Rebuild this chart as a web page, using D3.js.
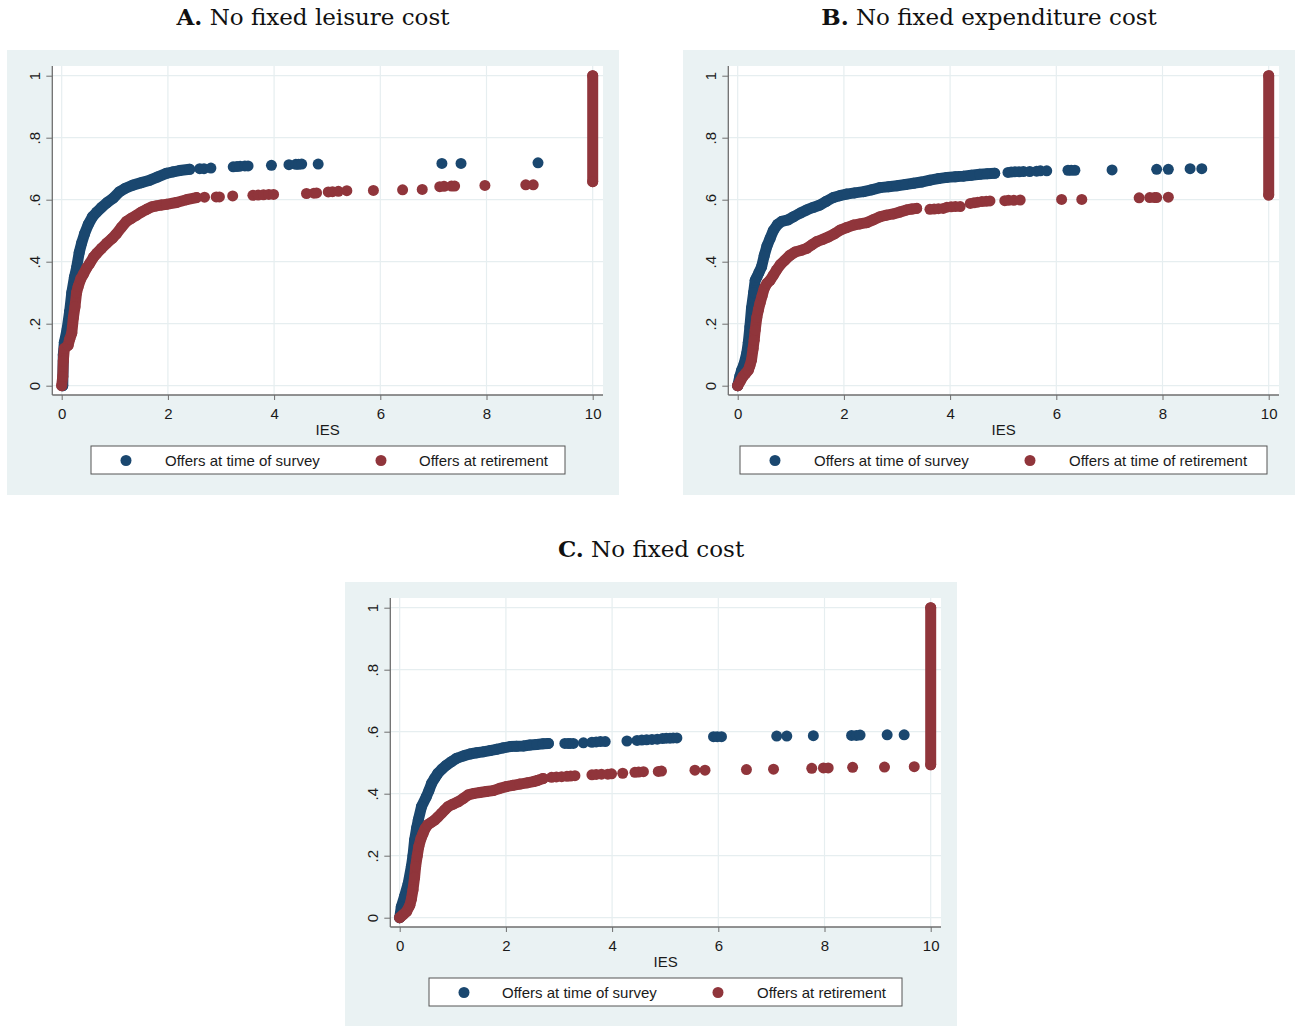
<!DOCTYPE html>
<html>
<head>
<meta charset="utf-8">
<script src="https://cdn.jsdelivr.net/npm/d3@7"></script>
<style>
  body { margin: 0; background: #fff; }
  svg { display: block; }
</style>
</head>
<body>
<svg id="chart" width="1296" height="1026"></svg>
<script>
var xTicks = [0, 2, 4, 6, 8, 10];
var yTicks = [0, 0.2, 0.4, 0.6, 0.8, 1];
var yTickLabels = ["0", ".2", ".4", ".6", ".8", "1"];
var seriesNames = ["Offers at time of survey", "Offers at retirement"];
var seriesNamesB = ["Offers at time of survey", "Offers at time of retirement"];

// panel A: no fixed leisure cost
var blueA_curve = [[0.02,0.0],[0.03,0.1],[0.05,0.14],[0.1,0.18],[0.15,0.24],[0.19,0.30],[0.24,0.35],[0.28,0.38],[0.33,0.43],[0.375,0.46],[0.43,0.49],[0.5,0.52],[0.58,0.545],[0.66,0.56],[0.75,0.575],[0.85,0.59],[0.97,0.605],[1.09,0.626],[1.2,0.637],[1.34,0.647],[1.5,0.655],[1.66,0.663],[1.8,0.673],[1.97,0.685],[2.1,0.69],[2.22,0.694],[2.41,0.698]];
var blueA_dots = [[2.6,0.70],[2.68,0.70],[2.81,0.702],[3.23,0.706],[3.3,0.707],[3.36,0.708],[3.45,0.709],[3.51,0.709],[3.95,0.711],[4.28,0.713],[4.41,0.714],[4.46,0.714],[4.52,0.715],[4.83,0.715],[7.16,0.717],[7.52,0.717],[8.97,0.719]];
var redA_curve = [[0.0,0.0],[0.02,0.03],[0.03,0.08],[0.05,0.12],[0.12,0.13],[0.15,0.15],[0.19,0.17],[0.22,0.22],[0.25,0.255],[0.28,0.3],[0.31,0.32],[0.36,0.345],[0.41,0.36],[0.47,0.38],[0.53,0.395],[0.6,0.415],[0.66,0.427],[0.75,0.443],[0.85,0.46],[0.95,0.475],[1.03,0.49],[1.12,0.51],[1.22,0.53],[1.31,0.54],[1.41,0.55],[1.5,0.56],[1.6,0.569],[1.7,0.577],[1.78,0.58],[1.88,0.583],[1.97,0.585],[2.16,0.591],[2.35,0.60],[2.54,0.607]];
var redA_dots = [[2.69,0.608],[2.91,0.609],[2.97,0.609],[3.22,0.612],[3.6,0.614],[3.7,0.615],[3.8,0.616],[3.9,0.617],[3.99,0.617],[4.61,0.62],[4.75,0.621],[4.8,0.622],[5.02,0.625],[5.1,0.626],[5.21,0.627],[5.37,0.629],[5.87,0.63],[6.42,0.632],[6.79,0.633],[7.12,0.642],[7.2,0.643],[7.34,0.644],[7.4,0.644],[7.97,0.646],[8.74,0.648],[8.88,0.648]];
var redA_bar = [[10,0.658],[10,1]];

// panel B: no fixed expenditure cost
var blueB_curve = [[0,0.0],[0.04,0.03],[0.075,0.05],[0.12,0.07],[0.17,0.104],[0.2,0.14],[0.23,0.19],[0.26,0.25],[0.3,0.30],[0.33,0.34],[0.36,0.35],[0.4,0.365],[0.45,0.384],[0.5,0.42],[0.55,0.45],[0.61,0.475],[0.67,0.50],[0.75,0.52],[0.83,0.53],[0.95,0.535],[1.05,0.545],[1.18,0.557],[1.3,0.567],[1.42,0.575],[1.55,0.583],[1.67,0.595],[1.8,0.607],[1.92,0.613],[2.05,0.618],[2.2,0.622],[2.37,0.626],[2.52,0.632],[2.68,0.639],[2.84,0.642],[3.0,0.645],[3.16,0.649],[3.31,0.653],[3.46,0.657],[3.62,0.663],[3.78,0.668],[3.94,0.672],[4.1,0.674],[4.25,0.676],[4.4,0.679],[4.56,0.682],[4.7,0.684],[4.84,0.685]];
var blueB_dots = [[5.09,0.688],[5.15,0.689],[5.22,0.69],[5.3,0.69],[5.38,0.691],[5.5,0.691],[5.63,0.692],[5.7,0.693],[5.82,0.693],[6.22,0.695],[6.28,0.695],[6.35,0.695],[7.05,0.696],[7.89,0.698],[8.11,0.698],[8.52,0.70],[8.74,0.70]];
var redB_curve = [[0,0],[0.05,0.015],[0.1,0.03],[0.15,0.04],[0.2,0.05],[0.23,0.065],[0.26,0.083],[0.29,0.12],[0.31,0.147],[0.33,0.18],[0.36,0.22],[0.39,0.245],[0.42,0.266],[0.46,0.29],[0.5,0.314],[0.55,0.33],[0.61,0.34],[0.67,0.356],[0.73,0.373],[0.8,0.39],[0.89,0.405],[0.98,0.42],[1.08,0.431],[1.2,0.437],[1.3,0.443],[1.4,0.455],[1.49,0.465],[1.6,0.472],[1.71,0.48],[1.82,0.49],[1.93,0.502],[2.05,0.51],[2.18,0.518],[2.3,0.522],[2.43,0.526],[2.55,0.535],[2.68,0.545],[2.8,0.55],[2.93,0.554],[3.05,0.56],[3.18,0.567],[3.28,0.57],[3.37,0.572]];
var redB_dots = [[3.62,0.569],[3.7,0.57],[3.78,0.571],[3.87,0.572],[3.94,0.576],[4.02,0.577],[4.1,0.578],[4.19,0.578],[4.38,0.588],[4.45,0.59],[4.52,0.592],[4.6,0.594],[4.68,0.595],[4.75,0.596],[5.03,0.597],[5.1,0.598],[5.2,0.598],[5.32,0.599],[6.1,0.601],[6.48,0.601],[7.56,0.606],[7.76,0.607],[7.85,0.607],[7.89,0.607],[8.11,0.608]];
var redB_bar = [[10,0.615],[10,1]];

// panel C: no fixed cost
var blueC_curve = [[0,0],[0.03,0.035],[0.09,0.068],[0.16,0.11],[0.22,0.165],[0.25,0.2],[0.28,0.25],[0.32,0.29],[0.35,0.315],[0.41,0.358],[0.5,0.39],[0.55,0.41],[0.6,0.433],[0.66,0.45],[0.72,0.466],[0.8,0.48],[0.88,0.492],[0.97,0.503],[1.07,0.514],[1.2,0.522],[1.32,0.528],[1.45,0.532],[1.57,0.535],[1.7,0.539],[1.82,0.543],[1.95,0.548],[2.08,0.552],[2.2,0.553],[2.33,0.554],[2.45,0.557],[2.58,0.559],[2.7,0.561],[2.8,0.562]];
var blueC_dots = [[3.11,0.562],[3.17,0.562],[3.21,0.562],[3.27,0.562],[3.46,0.564],[3.62,0.566],[3.7,0.567],[3.78,0.568],[3.87,0.568],[4.28,0.57],[4.47,0.572],[4.56,0.573],[4.65,0.574],[4.75,0.575],[4.85,0.576],[4.95,0.578],[5.02,0.579],[5.09,0.579],[5.15,0.58],[5.22,0.58],[5.91,0.584],[5.98,0.584],[6.06,0.584],[7.1,0.586],[7.29,0.586],[7.79,0.587],[8.51,0.588],[8.6,0.588],[8.67,0.589],[9.18,0.59],[9.5,0.59]];
var redC_curve = [[0,0],[0.06,0.009],[0.13,0.02],[0.19,0.04],[0.22,0.06],[0.25,0.09],[0.28,0.13],[0.3,0.165],[0.33,0.2],[0.36,0.23],[0.4,0.255],[0.44,0.272],[0.48,0.288],[0.53,0.3],[0.6,0.308],[0.66,0.315],[0.72,0.325],[0.79,0.337],[0.85,0.348],[0.91,0.358],[1.0,0.366],[1.1,0.374],[1.2,0.385],[1.29,0.396],[1.4,0.401],[1.51,0.404],[1.63,0.407],[1.76,0.41],[1.88,0.417],[2.01,0.423],[2.13,0.427],[2.26,0.431],[2.4,0.435],[2.52,0.439],[2.6,0.443],[2.7,0.449]];
var redC_dots = [[2.86,0.453],[2.95,0.454],[3.05,0.455],[3.15,0.456],[3.22,0.457],[3.3,0.458],[3.62,0.461],[3.7,0.462],[3.8,0.463],[3.92,0.463],[3.99,0.464],[4.2,0.466],[4.43,0.469],[4.5,0.47],[4.59,0.471],[4.87,0.472],[4.93,0.473],[5.56,0.476],[5.75,0.476],[6.53,0.478],[7.04,0.479],[7.76,0.482],[7.98,0.483],[8.07,0.483],[8.53,0.485],[9.13,0.486],[9.69,0.487]];
var redC_bar = [[10,0.493],[10,1]];

var BLUE = "#1a476f", RED = "#90353b", BG = "#eaf2f3", GRID = "#e6eef0";
var BG_W = 612, BG_H = 445;
var plotL = 45.3, plotR = 596, plotT = 16, plotB = 345;
var R = 5.5;

var svg = d3.select("#chart");

var x = d3.scaleLinear().domain([0, 10]).range([54.7, 585.7]);
var y = d3.scaleLinear().domain([0, 1]).range([335.7, 25.7]);

var line = d3.line().x(function(d) { return x(d[0]); }).y(function(d) { return y(d[1]); });

function drawPanel(ox, oy, letter, title, names, blue, red, leg) {
  var g = svg.append("g").attr("transform", "translate(" + ox + "," + oy + ")");

  g.append("rect").attr("width", BG_W).attr("height", BG_H).attr("fill", BG);
  g.append("rect").attr("x", plotL).attr("y", plotT)
    .attr("width", plotR - plotL).attr("height", plotB - plotT).attr("fill", "#fff");

  var t = g.append("text").attr("x", 306).attr("y", -25)
    .attr("text-anchor", "middle")
    .style("font-family", "'DejaVu Serif', serif").style("font-size", "23px").attr("fill", "#111");
  t.append("tspan").attr("font-weight", "bold").text(letter);
  t.append("tspan").text(" " + title);

  // grid
  g.selectAll("line.gx").data(xTicks).enter().append("line")
    .attr("x1", function(d) { return x(d); }).attr("x2", function(d) { return x(d); })
    .attr("y1", plotT).attr("y2", plotB).attr("stroke", GRID).attr("stroke-width", 1.2);
  g.selectAll("line.gy").data(yTicks).enter().append("line")
    .attr("y1", function(d) { return y(d); }).attr("y2", function(d) { return y(d); })
    .attr("x1", plotL).attr("x2", plotR).attr("stroke", GRID).attr("stroke-width", 1.2);

  // axes
  var ax = g.append("g").attr("transform", "translate(0," + plotB + ")")
    .call(d3.axisBottom(x).tickValues(xTicks).tickSize(5).tickSizeOuter(0).tickPadding(8));
  var ay = g.append("g").attr("transform", "translate(" + plotL + ",0)")
    .call(d3.axisLeft(y).tickValues(yTicks).tickSize(6).tickSizeOuter(0)
      .tickFormat(function(d, i) { return yTickLabels[i]; }));
  [ax, ay].forEach(function(a) {
    a.select(".domain").remove();
    a.selectAll(".tick line").attr("stroke", "#6e6e6e");
    a.selectAll("text").style("font-family", "'Liberation Sans', Arial, sans-serif")
      .style("font-size", "15px").attr("fill", "#1a1a1a");
  });
  ay.selectAll("text").attr("transform", "rotate(-90)")
    .attr("x", 0).attr("y", -12).attr("dy", 0).attr("text-anchor", "middle");

  g.append("line").attr("x1", plotL).attr("x2", plotL).attr("y1", plotT).attr("y2", plotB)
    .attr("stroke", "#6e6e6e").attr("stroke-width", 1.3);
  g.append("line").attr("x1", plotL).attr("x2", plotR).attr("y1", plotB).attr("y2", plotB)
    .attr("stroke", "#6e6e6e").attr("stroke-width", 1.3);

  g.append("text").attr("x", (plotL + plotR) / 2).attr("y", 384.5).attr("text-anchor", "middle")
    .style("font-family", "'Liberation Sans', Arial, sans-serif").style("font-size", "15px")
    .attr("fill", "#1a1a1a").text("IES");

  // points
  [[blue, BLUE], [red, RED]].forEach(function(s) {
    var sg = g.append("g");
    s[0].curves.forEach(function(c) {
      sg.append("path").datum(c).attr("d", line).attr("fill", "none")
        .attr("stroke", s[1]).attr("stroke-width", 2 * R)
        .attr("stroke-linecap", "round").attr("stroke-linejoin", "round");
    });
    var pts = s[0].dots.concat.apply(s[0].dots, s[0].curves);
    sg.selectAll("circle").data(pts).enter().append("circle")
      .attr("cx", function(d) { return x(d[0]); })
      .attr("cy", function(d) { return y(d[1]); })
      .attr("r", R).attr("fill", s[1]);
  });

  // legend
  var lg = g.append("g");
  lg.append("rect").attr("x", leg.x0).attr("y", 396).attr("width", leg.x1 - leg.x0).attr("height", 28)
    .attr("fill", "#fff").attr("stroke", "#555").attr("stroke-width", 1);
  [[leg.m1, leg.t1, BLUE, names[0]], [leg.m2, leg.t2, RED, names[1]]].forEach(function(e) {
    lg.append("circle").attr("cx", e[0]).attr("cy", 410.5).attr("r", R).attr("fill", e[2]);
    lg.append("text").attr("x", e[1]).attr("y", 416)
      .style("font-family", "'Liberation Sans', Arial, sans-serif").style("font-size", "15px")
      .attr("fill", "#1a1a1a").text(e[3]);
  });
}

drawPanel(7, 50, "A.", "No fixed leisure cost", seriesNames,
  { curves: [blueA_curve], dots: blueA_dots },
  { curves: [redA_curve, redA_bar], dots: redA_dots },
  { x0: 84, x1: 558, m1: 119, t1: 158, m2: 374, t2: 412 });

drawPanel(683, 50, "B.", "No fixed expenditure cost", seriesNamesB,
  { curves: [blueB_curve], dots: blueB_dots },
  { curves: [redB_curve, redB_bar], dots: redB_dots },
  { x0: 57, x1: 584, m1: 92, t1: 131, m2: 347, t2: 386 });

drawPanel(345, 582, "C.", "No fixed cost", seriesNames,
  { curves: [blueC_curve], dots: blueC_dots },
  { curves: [redC_curve, redC_bar], dots: redC_dots },
  { x0: 84, x1: 557, m1: 119, t1: 157, m2: 373, t2: 412 });
</script>
</body>
</html>
